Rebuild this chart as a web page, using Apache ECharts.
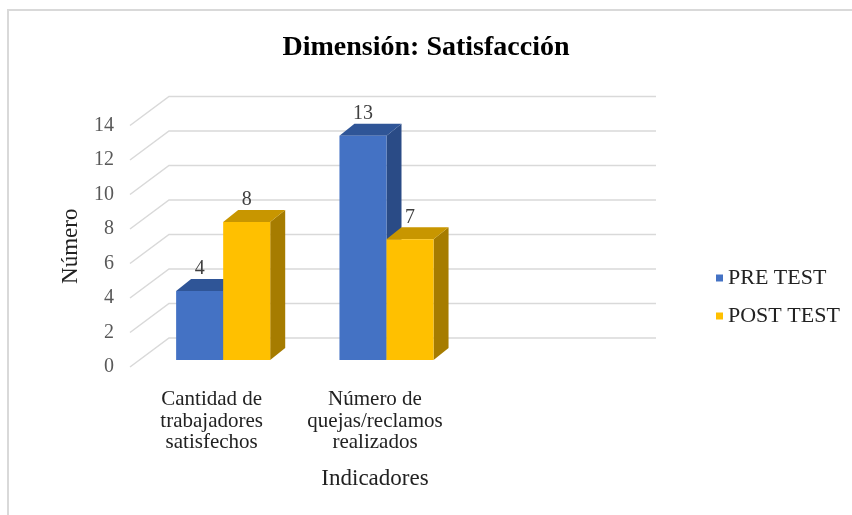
<!DOCTYPE html>
<html>
<head>
<meta charset="utf-8">
<script src="https://cdn.jsdelivr.net/npm/echarts@6/dist/echarts.min.js"></script>
<style>
  html, body { margin: 0; padding: 0; background: #ffffff; }
  #chart { width: 852px; height: 515px; }
</style>
</head>
<body>
<div id="chart"></div>
<script>
// Indicators on the category axis (third slot left empty, as in the 3D plot)
const categories = ['Cantidad de\ntrabajadores\nsatisfechos', 'Número de\nquejas/reclamos\nrealizados', ''];
const seriesNames = ['PRE TEST', 'POST TEST'];
const preTest = [4, 13];
const postTest = [8, 7];
// Value axis ticks
const yTicks = [0, 2, 4, 6, 8, 10, 12, 14];

const SERIF = 'Liberation Serif, serif';

// Pseudo-3D offsets (pixels)
const WALL = { dx: 39, dy: -29 };      // front edge -> back wall
const FRONT = { dx: 11.5, dy: -7 };    // front edge -> bar front face
const DEPTH = { dx: 15, dy: -12 };     // bar front face -> bar back face

const chart = echarts.init(document.getElementById('chart'));

function gridSeries() {
  return {
    type: 'custom',
    silent: true,
    z: 1,
    encode: { x: 0, y: 1 },
    data: yTicks.map(v => [0, v]),
    renderItem(params, api) {
      const cs = params.coordSys;
      const y = api.coord([0, api.value(1)])[1];
      return {
        type: 'polyline',
        shape: {
          points: [
            [cs.x, y],
            [cs.x + WALL.dx, y + WALL.dy],
            [cs.x + cs.width + WALL.dx - 3, y + WALL.dy]
          ]
        },
        style: { stroke: '#d9d9d9', lineWidth: 1.5, fill: null }
      };
    }
  };
}

function barSeries(name, values, colors, slot) {
  return {
    name,
    type: 'custom',
    z: 2,
    itemStyle: { color: colors.front },
    encode: { x: 0, y: 1 },
    data: values.map((v, i) => [i, v]),
    renderItem(params, api) {
      const ci = api.value(0);
      const v = api.value(1);
      const p0 = api.coord([ci, 0]);
      const p1 = api.coord([ci, v]);
      const band = api.size([1, 0])[0];
      const bw = band * 0.288;
      const xL = p0[0] + FRONT.dx + (slot === 0 ? -bw : 0);
      const yB = p0[1] + FRONT.dy;
      const yT = p1[1] + FRONT.dy;
      const xR = xL + bw;
      return {
        type: 'group',
        children: [
          {
            type: 'polygon',
            shape: { points: [[xR, yT], [xR + DEPTH.dx, yT + DEPTH.dy], [xR + DEPTH.dx, yB + DEPTH.dy], [xR, yB]] },
            style: { fill: colors.side }
          },
          {
            type: 'polygon',
            shape: { points: [[xL, yT], [xR, yT], [xR + DEPTH.dx, yT + DEPTH.dy], [xL + DEPTH.dx, yT + DEPTH.dy]] },
            style: { fill: colors.top }
          },
          {
            type: 'rect',
            shape: { x: xL, y: yT, width: bw, height: yB - yT },
            style: { fill: colors.front }
          },
          {
            type: 'text',
            style: {
              text: String(v),
              x: xL + bw / 2,
              y: yT + DEPTH.dy,
              align: 'center',
              verticalAlign: 'bottom',
              fontFamily: SERIF,
              fontSize: 20,
              fill: '#404040'
            }
          }
        ]
      };
    }
  };
}

chart.setOption({
  backgroundColor: '#ffffff',
  animation: false,
  title: {
    text: 'Dimensión: Satisfacción',
    left: 'center',
    top: 29,
    textStyle: { fontFamily: SERIF, fontWeight: 'bold', fontSize: 28, color: '#000000' }
  },
  graphic: [{
    type: 'rect',
    silent: true,
    shape: { x: 8, y: 10, width: 900, height: 600 },
    style: { fill: 'none', stroke: '#d9d9d9', lineWidth: 2 }
  }],
  legend: {
    data: seriesNames,
    orient: 'vertical',
    left: 711,
    top: 262,
    icon: 'rect',
    itemWidth: 7,
    itemHeight: 7,
    itemGap: 16,
    textStyle: { fontFamily: SERIF, fontSize: 22, color: '#222222' }
  },
  grid: { left: 130, top: 125.5, width: 490, height: 241.5 },
  xAxis: {
    type: 'category',
    data: categories,
    axisLine: { show: false },
    axisTick: { show: false },
    axisLabel: {
      interval: 0,
      margin: 22,
      fontFamily: SERIF,
      fontSize: 21,
      lineHeight: 21.5,
      color: '#222222'
    },
    name: 'Indicadores',
    nameLocation: 'middle',
    nameGap: 100,
    nameTextStyle: { fontFamily: SERIF, fontSize: 23, color: '#222222' }
  },
  yAxis: {
    type: 'value',
    min: 0,
    max: 14,
    interval: 2,
    axisLine: { show: false },
    axisTick: { show: false },
    splitLine: { show: false },
    axisLabel: { margin: 16, fontFamily: SERIF, fontSize: 20, color: '#595959' },
    name: 'Número',
    nameLocation: 'middle',
    nameGap: 48,
    nameRotate: 90,
    nameTextStyle: { fontFamily: SERIF, fontSize: 23, color: '#222222' }
  },
  series: [
    gridSeries(),
    barSeries(seriesNames[0], preTest, { front: '#4472C4', top: '#2F5597', side: '#2A4B86' }, 0),
    barSeries(seriesNames[1], postTest, { front: '#FFC000', top: '#C89600', side: '#A67C00' }, 1)
  ]
});
</script>
</body>
</html>
